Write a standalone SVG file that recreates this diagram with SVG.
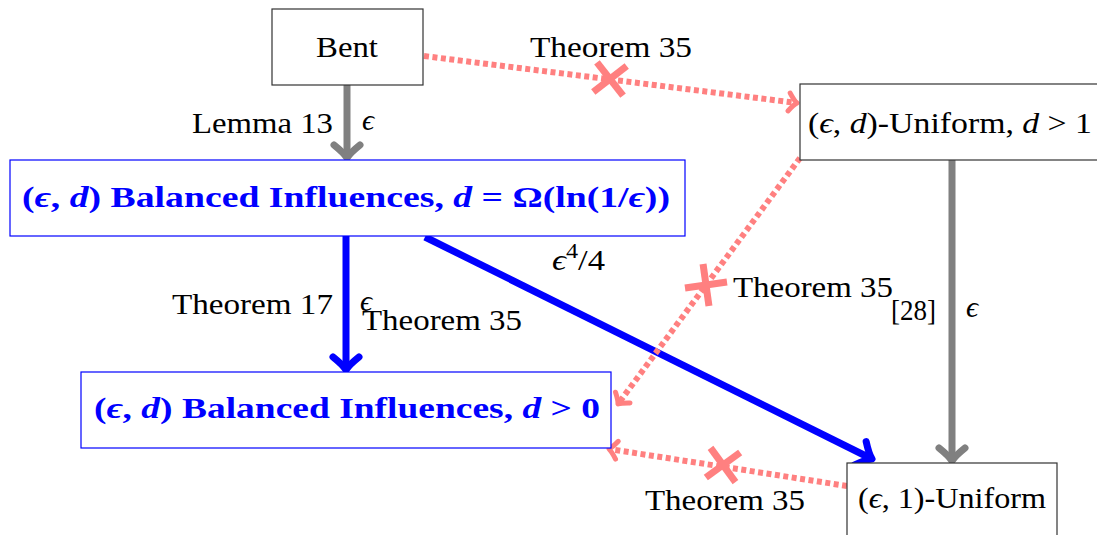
<svg xmlns="http://www.w3.org/2000/svg" width="1097" height="535" viewBox="0 0 1097 535" font-family="'Liberation Serif', 'DejaVu Serif', serif">
<style>
text{font-size:30px;fill:#000}
.b{fill:#0000ff;font-weight:bold;font-size:29px}
.i{font-style:italic}
.box{fill:#fff;stroke:#333;stroke-width:1.2}
.bbox{fill:#fff;stroke:#0000ff;stroke-width:1.2}
.gray{stroke:#808080;stroke-width:7;fill:none}
.blue{stroke:#0000ff;stroke-width:7;fill:none}
.pink{stroke:#ff8080;stroke-width:6;fill:none;stroke-dasharray:5 3.5}
.x{stroke:#ff8080;stroke-width:7;fill:none}
</style>
<defs>
<marker id="ag" markerUnits="userSpaceOnUse" orient="auto" overflow="visible" markerWidth="30" markerHeight="30" refX="0" refY="0">
<path d="M-13,-13 Q-5,-3 0,0 Q-5,3 -13,13" fill="none" stroke="#808080" stroke-width="7" stroke-linecap="round" stroke-linejoin="round"/>
</marker>
<marker id="ab" markerUnits="userSpaceOnUse" orient="auto" overflow="visible" markerWidth="30" markerHeight="30" refX="0" refY="0">
<path d="M-13,-13 Q-5,-3 0,0 Q-5,3 -13,13" fill="none" stroke="#0000ff" stroke-width="7" stroke-linecap="round" stroke-linejoin="round"/>
</marker>
<marker id="ap" markerUnits="userSpaceOnUse" orient="auto" overflow="visible" markerWidth="30" markerHeight="30" refX="0" refY="0">
<path d="M-8,-9 Q-3,-2 0,0 Q-3,2 -8,9" fill="none" stroke="#ff8080" stroke-width="5" stroke-linecap="round" stroke-linejoin="round"/>
</marker>
</defs>

<g id="connectors">
<line class="gray" x1="347" y1="85" x2="347" y2="158" marker-end="url(#ag)"/>
<line class="blue" x1="346" y1="236" x2="346" y2="370" marker-end="url(#ab)"/>
<line class="blue" x1="425" y1="237" x2="872" y2="459" marker-end="url(#ab)"/>
<line class="gray" x1="952" y1="160" x2="952" y2="461" marker-end="url(#ag)"/>
<line class="pink" x1="424" y1="56" x2="797" y2="103" marker-end="url(#ap)"/>
<line class="pink" x1="800" y1="158" x2="618" y2="404" marker-end="url(#ap)"/>
<line class="pink" x1="847" y1="486" x2="609" y2="449" marker-end="url(#ap)"/>
<g id="cross1" transform="translate(610,79) rotate(7)">
<line class="x" x1="-15" y1="-15" x2="15" y2="15"/><line class="x" x1="-15" y1="15" x2="15" y2="-15"/>
</g>
<g id="cross2" transform="translate(706,285) rotate(-53)">
<line class="x" x1="-15" y1="-15" x2="15" y2="15"/><line class="x" x1="-15" y1="15" x2="15" y2="-15"/>
</g>
<g id="cross3" transform="translate(723,465) rotate(9)">
<line class="x" x1="-15" y1="-15" x2="15" y2="15"/><line class="x" x1="-15" y1="15" x2="15" y2="-15"/>
</g>
<text x="192" y="133" textLength="141" lengthAdjust="spacingAndGlyphs">Lemma 13</text>
<text x="362" y="130" class="i">ϵ</text>
<text x="172" y="314" textLength="161" lengthAdjust="spacingAndGlyphs">Theorem 17</text>
<text x="360" y="311" class="i" font-size="24">ϵ</text>
<text x="362" y="330" textLength="160" lengthAdjust="spacingAndGlyphs">Theorem 35</text>
<text x="552" y="270" textLength="53" lengthAdjust="spacingAndGlyphs"><tspan class="i">ϵ</tspan><tspan font-size="21" dy="-12">4</tspan><tspan dy="12">/4</tspan></text>
<text x="530" y="57" textLength="162" lengthAdjust="spacingAndGlyphs">Theorem 35</text>
<text x="733" y="297" textLength="160" lengthAdjust="spacingAndGlyphs">Theorem 35</text>
<text x="891" y="320" textLength="45" lengthAdjust="spacingAndGlyphs">[28]</text>
<text x="966" y="317" class="i">ϵ</text>
<text x="645" y="510" textLength="160" lengthAdjust="spacingAndGlyphs">Theorem 35</text>
</g>

<g id="bent">
<rect class="box" x="272" y="9" width="151" height="76"/>
<text x="316" y="57" textLength="62" lengthAdjust="spacingAndGlyphs">Bent</text>
</g>
<g id="balanced-omega">
<rect class="bbox" x="10" y="160" width="675" height="76"/>
<text class="b" x="22" y="207" textLength="648" lengthAdjust="spacingAndGlyphs">(<tspan class="i">ϵ</tspan>, <tspan class="i">d</tspan>) Balanced Influences, <tspan class="i">d</tspan> = Ω(ln(1/<tspan class="i">ϵ</tspan>))</text>
</g>
<g id="uniform-d">
<rect class="box" x="800" y="84" width="310" height="76"/>
<text x="808" y="133" textLength="284" lengthAdjust="spacingAndGlyphs">(<tspan class="i">ϵ</tspan>, <tspan class="i">d</tspan>)-Uniform, <tspan class="i">d</tspan> &gt; 1</text>
</g>
<g id="balanced-0">
<rect class="bbox" x="81" y="372" width="530" height="76"/>
<text class="b" x="94" y="418" textLength="506" lengthAdjust="spacingAndGlyphs">(<tspan class="i">ϵ</tspan>, <tspan class="i">d</tspan>) Balanced Influences, <tspan class="i">d</tspan> &gt; 0</text>
</g>
<g id="uniform-1">
<rect class="box" x="847" y="463" width="210" height="90"/>
<text x="858" y="508" textLength="188" lengthAdjust="spacingAndGlyphs">(<tspan class="i">ϵ</tspan>, 1)-Uniform</text>
</g>
</svg>
